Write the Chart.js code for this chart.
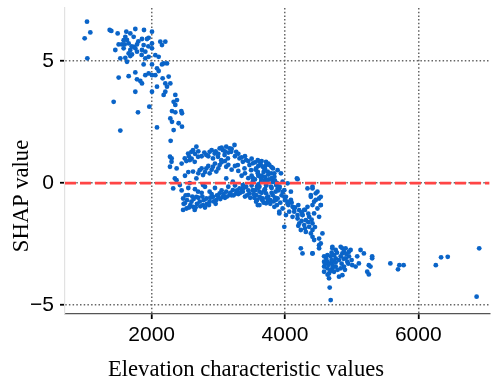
<!DOCTYPE html>
<html>
<head>
<meta charset="utf-8">
<script src="https://cdn.jsdelivr.net/npm/chart.js@4.4.0/dist/chart.umd.min.js"></script>
<style>
html,body{margin:0;padding:0;background:#fff;}
#wrap{width:492px;height:381px;}
</style>
</head>
<body>
<div id="wrap"><canvas id="c" width="492" height="381"></canvas></div>
<script>
// ---- axes / labels ----
const xTicks = [2000, 4000, 6000];
const yTicks = [-5, 0, 5];
const xRange = [700, 7070];
const yRange = [-5.36, 7.17];
const xTitle = 'Elevation characteristic values';
const yTitle = 'SHAP value';
const refLineValue = 0;

// ---- data (elevation value, SHAP value) ----
const plateauElev = [1030,1080,995,1035,1370,1395,1490,1620,1680,1755,1885,2005,1605,1630,1730,1855,1930,1955,
  1505,1555,1595,1655,1730,1780,1880,2005,2130,2155,2205,1455,1580,1680,1755,1855,1905,2005,
  1530,1605,1655,1705,1780,1905,1955,2055,2105,2180,2230,1630,1880,2005,2080,2105,2155,
  1505,1655,1755,1780,1830,1855,1905,1955,2005,2055,
  1700,1800,1850,1950,1680,1580];
const plateauShap = [6.61,6.17,5.93,5.11,6.27,6.23,6.13,6.20,6.13,6.31,6.27,6.20,5.99,5.86,5.99,5.90,5.90,5.95,
  5.68,5.68,5.68,5.72,5.58,5.68,5.65,5.72,5.79,5.65,5.79,5.45,5.52,5.45,5.52,5.45,5.38,5.52,
  5.11,5.13,5.31,5.27,5.38,5.11,5.17,5.24,5.17,4.90,4.90,4.97,4.86,4.86,4.70,4.59,4.86,
  4.32,4.38,4.53,4.25,4.18,4.08,4.42,4.49,4.42,4.42,
  5.60,5.80,5.25,5.60,5.20,5.85];

const dropElev = [1755,2005,2080,2165,2205,2230,2255,2280,2180,2205,1430,1965,1795,1530,2080,
  2355,2380,2330,2305,2355,2355,2445,2455,2280,2305,2405,2455,2330,2285,2275,2300,2275,2375];
const dropShap = [3.74,3.74,3.95,4.29,4.08,3.95,4.36,4.08,3.61,3.74,3.33,3.13,2.90,2.15,2.28,
  3.61,3.40,3.33,2.95,3.20,2.90,2.95,2.86,2.65,2.51,2.45,2.31,2.17,1.73,1.08,1.01,0.67,0.60];

const upperElev = [2298,2348,2373,2323,2497,2547,2597,2621,2671,2572,2646,2696,
  2820,2870,2945,3020,3069,3119,3169,3194,3243,3268,2920,2995,3094,3044,3144,
  3318,3368,3418,3467,3517,3567,3617,3666,3716,3741,3293,3393,3492,3592,
  2450,2520,2560,2600,2650,2700,2750,2790,2850,2900,2960,3000,3050,3100,3150,3200,3250,3300,3350,3400,3450,3500,3550,3600,3650,3700,3750,3800];
const upperShap = [0.87,0.19,0.12,-0.22,1.01,1.21,1.28,1.35,1.49,0.94,0.87,1.08,
  1.15,1.28,1.21,1.42,1.35,1.49,1.42,1.28,1.56,1.28,1.01,1.08,1.15,0.94,1.01,
  1.01,0.87,0.94,0.74,0.81,0.60,0.87,0.67,0.74,0.47,0.74,0.60,0.53,0.40,
  0.80,0.90,1.10,1.00,1.20,1.30,1.10,1.25,1.10,1.35,1.30,1.20,1.45,1.30,1.25,1.40,1.10,1.20,1.05,1.10,0.90,1.00,0.85,0.70,0.90,0.60,0.80,0.65];

const middleElev = [2621,2721,2820,2920,3020,2771,2870,2970,3119,2671,
  2423,2572,2771,3119,3218,3368,3517,3617,3716,
  2500,2550,2700,2750,2800,2850,2900,2950,3000,3050,3100,3150,3200,3250,3300,3350,3400,3450,3500,3550,3650,3700,3750,3800,3850,
  2450,2550,2650,2750,2800,2950,3000,3050,3100,3150,3200,3250,3300,3350,3400,3450,3500,3550,3600,3650,3700,3750,3800,3850,
  3520,3560,3600,3640,3680,3720,3760,3800,3840,3860,3880,3920,3540,3580,3660,3700,3780,3820];
const middleShap = [0.47,0.53,0.60,0.67,0.74,0.33,0.40,0.47,0.67,0.19,
  -0.08,0.00,-0.08,0.19,0.06,-0.08,0.06,-0.15,-0.08,
  0.30,0.45,0.40,0.60,0.45,0.70,0.55,0.80,0.60,0.85,0.90,0.75,0.55,0.70,0.50,0.30,0.40,0.20,0.30,0.15,0.30,0.10,0.35,0.20,0.10,
  -0.30,-0.20,-0.25,-0.40,-0.15,-0.20,-0.55,-0.30,-0.60,-0.15,-0.50,-0.10,-0.45,-0.25,-0.55,-0.30,-0.10,-0.30,-0.05,-0.40,-0.25,-0.55,-0.40,-0.60,
  0.20,0.55,0.30,0.05,0.45,-0.10,0.15,-0.20,0.40,-0.35,0.00,-0.15,-0.60,-0.15,-0.70,0.25,-0.70,0.60];

const lowerElev = [2472,2497,2522,2597,2622,2646,2671,2721,2771,2821,2870,2920,2970,3020,3069,3119,3169,3218,3268,3318,
  3368,3418,3467,3517,3567,3617,3666,3716,3741,3617,3567,2547,2696,2870,2472,
  2480,2530,2580,2630,2680,2730,2780,2830,2880,2930,2980,3030,3080,3130,3180,3230,3280,3330,3380,3430,3480,3530,3580,3630,3680,3730,3780,3830,3880,3930,
  2510,2560,2610,2660,2700,2760,2800,2860,2900,2960];
const lowerShap = [-0.63,-0.83,-1.04,-0.76,-0.97,-1.10,-0.56,-0.76,-0.90,-0.63,-0.76,-0.56,-0.69,-0.42,-0.56,-0.35,-0.49,-0.29,-0.42,-0.22,
  -0.35,-0.15,-0.42,-0.29,-0.49,-0.35,-0.63,-0.42,-0.76,-0.90,-0.76,-0.49,-0.35,-0.35,-1.10,
  -0.85,-0.70,-0.90,-0.65,-0.85,-0.95,-0.70,-0.85,-0.60,-0.75,-0.50,-0.65,-0.45,-0.55,-0.40,-0.50,-0.30,-0.40,-0.20,-0.50,-0.60,-0.45,-0.70,-0.60,-0.80,-0.60,-0.85,-0.75,-0.90,-0.80,
  -0.50,-1.00,-0.55,-1.00,-0.60,-0.55,-1.00,-0.90,-0.45,-0.85];

const slopeElev = [3592,3642,3716,3766,3592,3691,3791,3890,3940,3642,3741,3841,3965,4040,4179,3592,3691,3791,3890,3990,4089,
  3617,3741,3865,4015,4089,3592,3716,3841,4040,4114,3915,4015,4139,4189,4338,4413,4388,4487,4462,4537,4537,4413,4338,4288,4437,4512,4263,
  3816,3866,3915,3965,4189,3816,3890,3990,4040,3915,3965,4064,4139,4214,4114,4189,4263,4313,4363,4214,4288,4363,4413,4238,4313,4388,3990,
  4413,4462,4512,4537,4437,4487,4388,4413,4512,4562,4512,4238,4263,4413,4711,4761,4836,4910,4960,4861,
  3900,3950,4000,4050,4100,4150,4200,4250,4300,4350,4400,4250,4300,4350,4450,4200];
const slopeShap = [0.94,0.74,0.87,0.74,0.46,0.53,0.40,0.53,0.40,0.19,0.12,0.26,0.06,-0.01,0.19,-0.22,-0.29,-0.15,-0.22,-0.29,-0.35,
  -0.56,-0.63,-0.69,-0.56,-0.69,-0.90,-0.83,-0.97,-0.83,-0.97,-1.24,-1.31,-1.17,-1.31,-0.22,-0.15,-0.56,-0.35,-0.69,-0.56,-0.90,-0.90,-0.97,-1.10,-1.24,-1.38,-1.31,
  0.05,-0.08,-0.22,-0.36,0.16,-0.49,-0.63,-0.56,-0.76,-1.17,-1.04,-1.17,-1.04,-1.11,-1.38,-1.45,-1.31,-1.52,-1.38,-1.65,-1.72,-1.79,-1.65,-1.92,-2.00,-2.06,-1.79,
  -0.22,-0.42,-0.63,-0.90,-0.76,-1.04,-0.49,-2.20,-2.27,-2.06,-2.54,-2.67,-2.88,-2.88,-2.61,-2.74,-2.61,-2.67,-2.81,-2.88,
  -0.30,-0.50,-0.70,-0.90,-0.80,-1.00,-0.90,-1.20,-1.10,-1.25,-1.50,-1.55,-1.85,-1.60,-1.80,-1.75];

const troughElev = [4413,4438,4537,4512,4413,4587,4637,4686,4711,4736,4761,4836,4861,4885,
  4587,4637,4686,4736,4587,4637,4711,4761,4587,4661,4736,
  4910,4960,4985,4935,5010,5060,5084,5109,4885,4836,4861,4811,
  5134,5184,5308,5308,5258,5283,5234,5258,4661,4671,4686,
  4620,4650,4700,4680,4720,4760,4790,4810,4850,4880,4900,4950,4600,4640,4700,4780,4920,5000];
const troughShap = [-1.92,-2.33,-2.47,-2.67,-2.88,-3.00,-2.95,-3.00,-2.67,-2.95,-3.08,-3.00,-2.67,-2.81,
  -3.22,-3.22,-3.29,-3.22,-3.42,-3.49,-3.49,-3.42,-3.63,-3.70,-3.63,
  -3.08,-3.00,-2.74,-3.22,-3.36,-3.42,-3.00,-3.29,-3.42,-3.49,-3.77,-3.83,
  -2.74,-2.88,-3.00,-3.08,-3.36,-3.42,-3.63,-3.74,-3.90,-4.28,-4.79,
  -3.10,-3.35,-3.15,-3.60,-3.40,-3.25,-3.55,-3.15,-3.30,-3.10,-3.55,-3.30,-3.30,-3.75,-2.85,-2.85,-2.90,-3.15];

const tailElev = [5581,5716,5696,5780,6263,6342,6442,6914,6875];
const tailShap = [-3.29,-3.36,-3.53,-3.36,-3.36,-3.04,-3.02,-2.67,-4.65];

function zip(xs, ys) {
  const n = Math.min(xs.length, ys.length);
  const out = [];
  for (let i = 0; i < n; i++) out.push({x: xs[i], y: ys[i]});
  return out;
}
const points = [].concat(
  zip(plateauElev, plateauShap), zip(dropElev, dropShap), zip(upperElev, upperShap),
  zip(middleElev, middleShap), zip(lowerElev, lowerShap), zip(slopeElev, slopeShap),
  zip(troughElev, troughShap), zip(tailElev, tailShap));

const titlePlugin = {
  id: 'axisTitles',
  afterDraw(chart) {
    const ctx = chart.ctx;
    ctx.save();
    ctx.fillStyle = '#000';
    ctx.font = '22.6px "Liberation Serif", "Times New Roman", serif';
    ctx.textAlign = 'center';
    ctx.textBaseline = 'alphabetic';
    ctx.fillText(xTitle, 246, 376);
    ctx.translate(28, 196);
    ctx.rotate(-Math.PI / 2);
    ctx.fillText(yTitle, 0, 0);
    ctx.restore();
  }
};

const tickFont = {family: '"Liberation Sans", Arial, sans-serif', size: 21};

new Chart(document.getElementById('c'), {
  type: 'scatter',
  data: {
    datasets: [
      {
        type: 'line',
        data: [{x: xRange[0], y: refLineValue}, {x: xRange[1], y: refLineValue}],
        borderColor: '#ff4545',
        borderWidth: 2.6,
        borderDash: [11, 4],
        pointRadius: 0,
        fill: false,
        order: 0
      },
      {
        data: points,
        backgroundColor: '#0a64c8',
        borderWidth: 0,
        pointRadius: 2.4,
        pointHoverRadius: 2.4,
        order: 1
      }
    ]
  },
  options: {
    responsive: false,
    devicePixelRatio: 1,
    animation: false,
    events: [],
    layout: {padding: {top: 8, left: 0, right: 0, bottom: 0}},
    plugins: {legend: {display: false}, tooltip: {enabled: false}},
    scales: {
      x: {
        type: 'linear',
        min: xRange[0],
        max: xRange[1],
        afterBuildTicks: s => { s.ticks = xTicks.map(v => ({value: v})); },
        afterFit: s => { s.height = 67; s.paddingLeft = 0; s.paddingRight = 0; },
        grid: {color: '#666', lineWidth: 1.5, tickColor: '#000', tickLength: 5, tickWidth: 1.8},
        border: {color: '#555', width: 1.2, dash: [1.5, 2.2]},
        ticks: {color: '#000', font: tickFont, padding: 4, maxRotation: 0, callback: v => String(v)}
      },
      y: {
        type: 'linear',
        min: yRange[0],
        max: yRange[1],
        afterBuildTicks: s => { s.ticks = yTicks.map(v => ({value: v})); },
        afterFit: s => { s.width = 65; s.paddingTop = 0; s.paddingBottom = 0; },
        grid: {color: '#666', lineWidth: 1.5, tickColor: '#000', tickLength: 5, tickWidth: 1.8},
        border: {color: '#e2e2e2', width: 1.2, dash: [1.5, 2.2]},
        ticks: {color: '#000', font: tickFont, padding: 6, callback: v => (v < 0 ? '\u2212' + Math.abs(v) : String(v))}
      }
    }
  },
  plugins: [titlePlugin]
});
</script>
</body>
</html>
